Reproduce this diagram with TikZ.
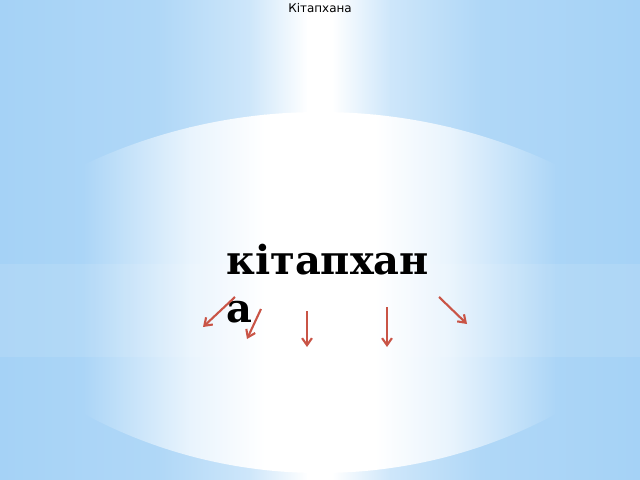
\documentclass[tikz,border=0pt]{standalone}
\usepackage{fontspec}
\setmainfont{DejaVu Serif}
\newfontfamily\titlefont{DejaVu Sans}
\usetikzlibrary{arrows.meta}

\definecolor{bgblue}{RGB}{165,210,246}
\definecolor{arrowred}{RGB}{201,84,70}

\tikzset{
  redarrow/.style={draw=arrowred, line width=1.5pt, -{Straight Barb[length=5pt,width=7pt]}},
}

\begin{document}
\begin{tikzpicture}[x=0.025cm,y=-0.025cm]
        \useasboundingbox (0,0) rectangle (640,480);
        % background, white band in the middle
        \shade[left color=bgblue, right color=bgblue!88!white] (0,0) rectangle (160,480);
        \shade[left color=bgblue!88!white, right color=bgblue!55!white] (159,0) rectangle (250,480);
        \shade[left color=bgblue!55!white, right color=white] (249,0) rectangle (308,480);
        \fill[white] (307,0) rectangle (333,480);
        \shade[left color=white, right color=bgblue!55!white] (332,0) rectangle (391,480);
        \shade[left color=bgblue!55!white, right color=bgblue!88!white] (390,0) rectangle (481,480);
        \shade[left color=bgblue!88!white, right color=bgblue] (480,0) rectangle (640,480);

        % the lens
        \begin{scope}
        \clip (85,0) rectangle (555,480);
        \clip (320,666) circle (554);
        \clip (320,-27) circle (500);
        \shade[left color=bgblue!92!white, right color=bgblue!25!white] (85,0) rectangle (190,480);
        \shade[left color=bgblue!25!white, right color=white] (189,0) rectangle (265,480);
        \fill[white] (264,0) rectangle (376,480);
        \shade[left color=white, right color=bgblue!25!white] (375,0) rectangle (451,480);
        \shade[left color=bgblue!25!white, right color=bgblue!92!white] (450,0) rectangle (555,480);
        \end{scope}

        % light strip
        \fill[white, opacity=0.1] (0,264) rectangle (640,357);

        \node (title) at (320,8) {\titlefont\fontsize{8.5}{10}\selectfont Кітапхана};
        \node [anchor=north west, inner sep=0pt, align=left,
               font=\fontsize{28.4}{34}\bfseries\selectfont] (word) at (226,244) {кітапхан\\а};

        \coordinate (s1) at (235,297);
        \coordinate (e1) at (203,327);
        \coordinate (s2) at (261,309);
        \coordinate (e2) at (247,339);
        \coordinate (s3) at (307,311);
        \coordinate (e3) at (307,347);
        \coordinate (s4) at (387,307);
        \coordinate (e4) at (387,347);
        \coordinate (s5) at (439,297);
        \coordinate (e5) at (467,324);
        \draw [redarrow] (s1) -- (e1);
        \draw [redarrow] (s2) -- (e2);
        \draw [redarrow] (s3) -- (e3);
        \draw [redarrow] (s4) -- (e4);
        \draw [redarrow] (s5) -- (e5);
\end{tikzpicture}
\end{document}
